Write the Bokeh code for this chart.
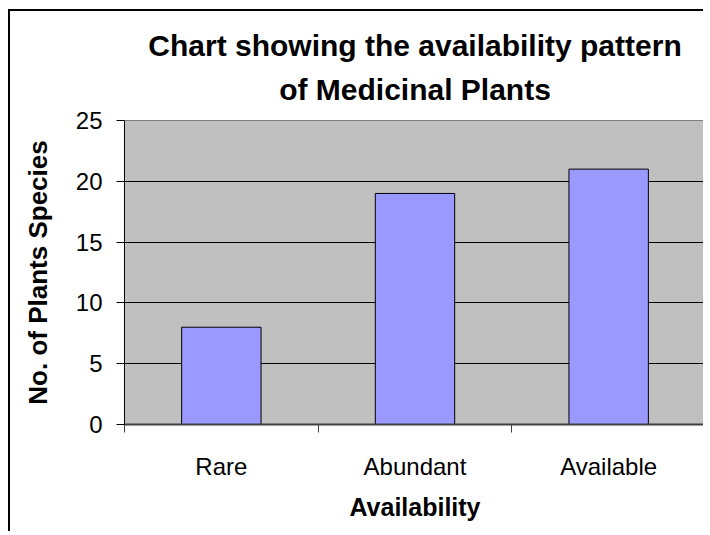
from bokeh.plotting import figure
from bokeh.models import Range1d, FixedTicker, Title
from bokeh.embed import file_html
from bokeh.resources import INLINE

categories = ["Rare", "Abundant", "Available"]
species_counts = [8, 19, 21]
y_ticks = [0, 5, 10, 15, 20, 25]
title_lines = ["Chart showing the availability pattern", "of Medicinal Plants"]
x_label = "Availability"
y_label = "No. of Plants Species"

FONT = "Liberation Sans"

x_pos = [i + 0.5 for i in range(len(categories))]

p = figure(
    width=695, height=522,
    x_range=Range1d(0, len(categories)), y_range=Range1d(0, 25),
    output_backend="svg", toolbar_location=None,
    min_border_left=114, min_border_right=0, min_border_top=109, min_border_bottom=109,
    background_fill_color="#C0C0C0", border_fill_color="white",
    outline_line_color="#808080", outline_line_width=1,
    styles={"border-left": "2px solid black", "border-top": "2px solid black",
            "margin-left": "8px", "margin-top": "9px"},
)

p.vbar(x=x_pos, top=species_counts, width=0.41, fill_color="#9999FF",
       line_color="black", line_width=1)

# title: first line is the figure title (outermost), second line added closest to the plot
p.title.text = title_lines[0]
p.title.align = "center"
p.title.text_font = FONT
p.title.text_font_style = "bold"
p.title.text_font_size = "30px"
p.title.text_color = "black"
p.title.standoff = -12

t2 = Title(text=title_lines[1], align="center", text_font=FONT, text_font_style="bold",
           text_font_size="30px", text_color="black", standoff=30)
p.add_layout(t2, "above")

# x axis
xa = p.xaxis[0]
xa.ticker = FixedTicker(ticks=x_pos, minor_ticks=list(range(len(categories) + 1)))
xa.major_label_overrides = {x: c for x, c in zip(x_pos, categories)}
xa.major_tick_out = 0
xa.major_tick_in = 0
xa.minor_tick_out = 8
xa.minor_tick_in = 0
xa.minor_tick_line_color = "#404040"
xa.axis_line_color = "#404040"
xa.axis_line_width = 2
xa.major_label_text_font = FONT
xa.major_label_text_font_size = "24px"
xa.major_label_text_color = "black"
xa.major_label_standoff = 20
xa.axis_label = x_label
xa.axis_label_text_font = FONT
xa.axis_label_text_font_style = "bold"
xa.axis_label_text_font_size = "25px"
xa.axis_label_text_color = "black"
xa.axis_label_standoff = 10

# y axis
ya = p.yaxis[0]
ya.ticker = FixedTicker(ticks=y_ticks)
ya.major_tick_out = 8
ya.major_tick_in = 0
ya.minor_tick_out = 0
ya.minor_tick_in = 0
ya.axis_line_color = "black"
ya.major_tick_line_color = "black"
ya.major_label_text_font = FONT
ya.major_label_text_font_size = "24px"
ya.major_label_text_color = "black"
ya.major_label_standoff = 14
ya.axis_label = y_label
ya.axis_label_text_font = FONT
ya.axis_label_text_font_style = "bold"
ya.axis_label_text_font_size = "26px"
ya.axis_label_text_color = "black"
ya.axis_label_standoff = 20

p.xgrid.grid_line_color = None
p.ygrid.ticker = FixedTicker(ticks=y_ticks)
p.ygrid.grid_line_color = "black"
p.ygrid.grid_line_width = 1

open("out.html", "w").write(file_html(p, INLINE))
